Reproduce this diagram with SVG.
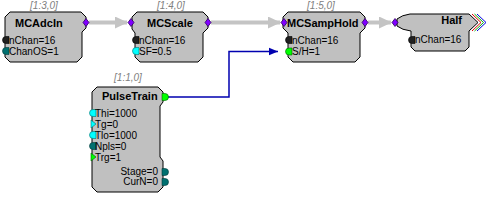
<svg xmlns="http://www.w3.org/2000/svg" width="490" height="211" viewBox="0 0 490 211">
<style>
text{font-family:"Liberation Sans",Arial,sans-serif;fill:#000}
.body{fill:#C0C0C0;stroke:#000;stroke-width:1}
.title{font-size:11px;font-weight:bold}
.idx{font-size:10px;font-style:italic;fill:#808080}
.pl{font-size:10px}
.gw{stroke:#C4C4C4;stroke-width:4;fill:none}
.blue{stroke:#0000B0;stroke-width:1.5;fill:none}
.pp{fill:#8000FF;stroke:#300060;stroke-width:0.8}
.pk{fill:#202020;stroke:#000;stroke-width:0.6}
.pt{fill:#007070;stroke:#003838;stroke-width:0.6}
.pc{fill:#00FFFF;stroke:#007070;stroke-width:0.6}
.pg{fill:#00FF00;stroke:#006000;stroke-width:0.6}
</style>
<defs>
<marker id="ag" markerWidth="4" markerHeight="3" refX="3" refY="1.5" orient="auto" markerUnits="strokeWidth"><path d="M0,0 L3.2,1.5 L0,3 Z" fill="#C4C4C4"/></marker>
<marker id="ab" markerWidth="8" markerHeight="8" refX="6" refY="3" orient="auto" markerUnits="strokeWidth"><path d="M0,0.5 L6,3 L0,5.5 Z" fill="#0000B0"/></marker>
<path id="pdi" d="M-3,0 L0,-4 L3,0 L0,4 Z"/>
<path id="pdl" d="M3,-3.5 H0 A3.5,3.5 0 0 0 0,3.5 H3 Z"/>
<path id="pdr" d="M-3,-3.5 H0 A3.5,3.5 0 0 1 0,3.5 H-3 Z"/>
<path id="ptr" d="M-1,-4 L4,0 L-1,4 Z"/>
</defs>

<g id="connectors">
<line class="gw" x1="89" y1="22.5" x2="127" y2="22.5" marker-end="url(#ag)"/>
<line class="gw" x1="211" y1="22.5" x2="280" y2="22.5" marker-end="url(#ag)"/>
<line class="gw" x1="368" y1="22.5" x2="391" y2="22.5" marker-end="url(#ag)"/>
<polyline class="blue" points="167,97 229,97 229,51.5 278,51.5" marker-end="url(#ab)"/>
</g>

<g id="MCAdcIn">
<text class="idx" x="44" y="9" text-anchor="middle">[1:3,0]</text>
<path class="body" d="M10,12 H81 L86,17 V28 L82,32 V57 L77,62 H10 L5,57 V17 Z"/>
<text class="title" x="15" y="27">MCAdcIn</text>
<use href="#pdi" class="pp" x="86" y="22.5"/>
<use href="#pdl" class="pk" x="6" y="40"/>
<use href="#pdl" class="pt" x="6" y="51"/>
<text class="pl" x="9" y="43.5">nChan=16</text>
<text class="pl" x="9" y="54.5">ChanOS=1</text>
</g>

<g id="MCScale">
<text class="idx" x="171" y="9" text-anchor="middle">[1:4,0]</text>
<path class="body" d="M137,12 H203 L208,17 V28 L203,33 V57 L198,62 H140 L135,57 V33 L132,29 V17 Z"/>
<text class="title" x="147" y="27">MCScale</text>
<use href="#pdi" class="pp" x="131" y="22.5"/>
<use href="#pdi" class="pp" x="208" y="22.5"/>
<use href="#pdl" class="pk" x="136" y="40"/>
<use href="#pdl" class="pc" x="136" y="51"/>
<text class="pl" x="139" y="43.5">nChan=16</text>
<text class="pl" x="139" y="54.5">SF=0.5</text>
</g>

<g id="MCSampHold">
<text class="idx" x="321" y="9" text-anchor="middle">[1:5,0]</text>
<path class="body" d="M288,12 H360 L365,17 V28 L360,33 V57 L355,62 H293 L288,57 V33 L283,28 V17 Z"/>
<text class="title" x="287" y="27">MCSampHold</text>
<use href="#pdi" class="pp" x="284" y="22.5"/>
<use href="#pdi" class="pp" x="365" y="22.5"/>
<use href="#pdl" class="pk" x="289" y="40"/>
<use href="#pdl" class="pg" x="289" y="51.5"/>
<text class="pl" x="292" y="43.5">nChan=16</text>
<text class="pl" x="292" y="54.5">S/H=1</text>
</g>

<g id="Half">
<path class="body" d="M397,19 Q402,15 410,14 H469 L478,22.5 L469,31 V47 L465,51 H415 L411,47 V31 Q402,30 397,26 Z"/>
<polyline points="472,14 481,22.5 472,31" fill="none" stroke="#E00000" stroke-width="1"/>
<polyline points="474.5,14 483.5,22.5 474.5,31" fill="none" stroke="#00B000" stroke-width="1"/>
<polyline points="477,14 486,22.5 477,31" fill="none" stroke="#0000E0" stroke-width="1"/>
<text class="title" x="462" y="24" text-anchor="end">Half</text>
<use href="#pdi" class="pp" x="395" y="22.5"/>
<use href="#pdl" class="pk" x="412" y="40"/>
<text class="pl" x="415" y="43">nChan=16</text>
</g>

<g id="PulseTrain">
<text class="idx" x="128" y="81" text-anchor="middle">[1:1,0]</text>
<path class="body" d="M97,87 H158 L163,92 V102 L160,106 V157 L163,161 V187 L158,192 H97 L92,187 V92 Z"/>
<text class="title" x="102" y="99.5">PulseTrain</text>
<use href="#pdr" class="pg" x="165" y="97"/>
<use href="#pdl" class="pc" x="93" y="113"/>
<use href="#ptr" class="pc" x="92" y="124"/>
<use href="#pdl" class="pc" x="93" y="135"/>
<use href="#pdl" class="pt" x="93" y="146"/>
<use href="#ptr" class="pg" x="92" y="157"/>
<text class="pl" x="95" y="116.5">Thi=1000</text>
<text class="pl" x="95" y="127.5">Tg=0</text>
<text class="pl" x="95" y="138.5">Tlo=1000</text>
<text class="pl" x="95" y="149.5">Npls=0</text>
<text class="pl" x="95" y="160.5">Trg=1</text>
<use href="#pdr" class="pt" x="165" y="172"/>
<use href="#pdr" class="pt" x="165" y="182"/>
<text class="pl" x="158" y="175" text-anchor="end">Stage=0</text>
<text class="pl" x="158" y="185" text-anchor="end">CurN=0</text>
</g>
</svg>
